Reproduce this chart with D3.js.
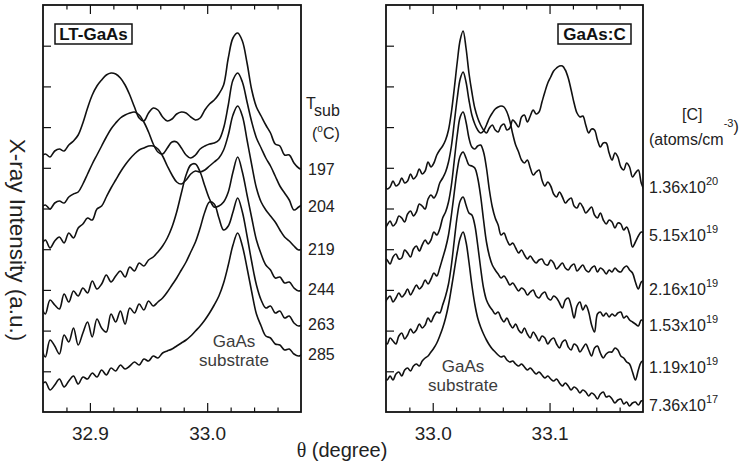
<!DOCTYPE html>
<html>
<head>
<meta charset="utf-8">
<script src="https://cdn.jsdelivr.net/npm/d3@7"></script>
<style>
  html, body { margin: 0; padding: 0; background: #fff; }
  svg { display: block; font-family: "Liberation Sans", Arial, Helvetica, sans-serif; }
</style>
</head>
<body>
<svg id="chart" width="740" height="473"></svg>
<script>
// ---------- LT-GaAs: rocking curves for several substrate temperatures ----------
const thetaLT = [
  32.858, 32.862, 32.866, 32.870, 32.874, 32.878, 32.882, 32.886, 32.890, 32.894,
  32.898, 32.902, 32.906, 32.910, 32.914, 32.918, 32.922, 32.926, 32.930, 32.934,
  32.938, 32.942, 32.946, 32.950, 32.954, 32.958, 32.962, 32.966, 32.970, 32.974,
  32.978, 32.982, 32.986, 32.990, 32.994, 32.998, 33.002, 33.006, 33.010, 33.014,
  33.018, 33.022, 33.026, 33.030, 33.034, 33.038, 33.042, 33.046, 33.050, 33.054,
  33.058, 33.062, 33.066, 33.070, 33.074, 33.078, 33.082
];
const tsubLabels = ["197", "204", "219", "244", "263", "285"];
const lt197 = [255,258,255,261,263,261,267,271,277,289, 304,317,326,332,337,339,338,334,327,317,
  305,294,291,299,304,302,295,291,293,298, 300,299,295,292,294,302,308,312,318,327,
  354,374,379,371,349,322,305,296,287,279, 268,266,257,257,249,244,242];
const lt204 = [204,207,203,209,211,209,215,218,220,228, 238,248,257,266,275,283,289,294,297,299,
  300,297,290,280,268,260,258,264,270,270, 264,257,254,257,263,266,268,269,272,284,
  307,332,339,330,310,290,274,264,254,246, 236,226,219,212,202,205,208];
const lt219 = [166,172,164,171,175,169,179,174,184,188, 194,192,203,206,215,224,232,240,247,253,
  258,262,264,266,266,263,256,246,237,230, 228,232,238,241,240,242,246,250,254,262,
  277,297,306,296,272,247,224,210,202,196, 190,182,175,171,166,162,164];
const lt244 = [108,98,112,107,103,118,110,121,116,124, 119,131,123,128,137,130,136,141,135,145,
  141,149,146,152,155,160,166,174,185,200, 219,237,247,248,240,226,213,205,206,210,
  220,240,255,240,217,194,172,158,147,142, 134,135,129,130,124,121,123];
const lt263 = [69,55,72,66,58,77,70,84,67,79, 90,75,93,84,80,98,90,101,88,104,
  99,108,102,111,106,110,114,120,127,134, 142,150,160,170,184,200,210,208,194,182,
  186,200,214,200,176,150,127,112,104,106, 99,101,94,96,89,86,88];
const lt285 = [26,30,22,27,33,25,31,36,28,35, 33,39,35,42,37,44,41,47,43,46,
  50,47,53,51,56,54,59,61,63,66, 69,72,76,81,86,92,99,107,116,129,
  147,167,179,166,144,120,98,86,76,74, 68,67,62,63,58,56,59];

// ---------- GaAs:C: rocking curves for several carbon concentrations ----------
const thetaC = [
  32.956, 32.9585, 32.961, 32.9635, 32.966, 32.9685, 32.971, 32.9735, 32.976, 32.9785,
  32.981, 32.9835, 32.986, 32.9885, 32.991, 32.9935, 32.996, 32.9985, 33.001, 33.0035,
  33.006, 33.0085, 33.011, 33.0135, 33.016, 33.0185, 33.021, 33.0235, 33.026, 33.0285,
  33.031, 33.0335, 33.036, 33.0385, 33.041, 33.0435, 33.046, 33.0485, 33.051, 33.0535,
  33.056, 33.0585, 33.061, 33.0635, 33.066, 33.0685, 33.071, 33.0735, 33.076, 33.0785,
  33.081, 33.0835, 33.086, 33.0885, 33.091, 33.0935, 33.096, 33.0985, 33.101, 33.1035,
  33.106, 33.1085, 33.111, 33.1135, 33.116, 33.1185, 33.121, 33.1235, 33.126, 33.1285,
  33.131, 33.1335, 33.136, 33.1385, 33.141, 33.1435, 33.146, 33.1485, 33.151, 33.1535,
  33.156, 33.1585, 33.161, 33.1635, 33.166, 33.1685, 33.171, 33.1735, 33.176, 33.1785,
  33.181
];
const dopingMantissa = ["1.36", "5.15", "2.16", "1.53", "1.19", "7.36"];
const dopingExponent = ["20", "19", "19", "19", "19", "17"];
const c136e20 = [222,227,223,225,231,226,228,234,229,231, 238,233,236,243,238,241,250,245,249,257,
  262,266,272,282,300,324,350,372,381,364, 339,320,304,294,287,282,279,284,287,282,
  280,286,288,282,284,292,289,285,295,297, 290,296,302,298,300,310,320,329,335,341,
  344,346,346,342,334,322,309,299,295,296, 287,279,283,282,272,265,269,269,259,252,
  259,255,245,242,249,245,235,239,242,229, 222];
const c515e19 = [186,183,187,191,186,189,196,194,190,198, 201,196,200,208,206,203,213,217,214,219,
  229,234,240,250,266,290,314,333,340,330, 312,297,288,282,279,281,287,294,299,303,
  305,306,305,300,291,278,267,260,252,249, 252,244,237,240,242,232,226,230,226,218,
  215,220,215,209,212,214,206,204,209,205, 199,202,205,197,194,199,192,188,192,190,
  184,189,188,182,185,178,165,170,176,180, 179];
const c216e19 = [150,154,152,148,155,158,153,154,162,159, 155,163,166,161,167,172,168,172,180,177,
  183,194,200,210,227,252,277,295,300,290, 274,265,263,266,267,260,244,222,205,194,
  187,177,179,172,167,169,164,159,162,157, 153,156,152,149,152,153,148,147,152,149,
  143,146,149,144,142,146,148,141,144,147, 142,140,144,146,140,144,142,138,142,140,
  144,141,140,144,146,142,139,130,123,130, 132];
const c153e19 = [112,109,113,116,110,114,119,115,118,123, 117,122,127,123,126,132,128,133,139,136,
  144,154,164,177,197,220,242,256,260,254, 247,246,244,234,216,192,170,156,147,142,
  138,134,136,132,127,129,125,121,124,122, 117,120,122,116,114,118,120,114,112,116,
  114,109,104,112,114,106,94,106,110,102, 107,100,87,80,98,100,96,99,95,98,
  96,99,100,94,96,92,90,88,86,92, 90];
const c119e19 = [67,70,68,74,71,68,76,79,73,77, 83,79,82,88,84,87,94,90,96,100,
  99,107,116,128,147,172,196,211,215,207, 199,197,187,167,144,124,112,106,102,98,
  100,94,90,94,88,84,88,82,79,84, 78,74,80,76,71,76,74,68,72,74,
  68,64,70,72,65,62,68,66,60,64, 68,62,56,64,66,59,54,58,60,60,
  64,62,56,54,50,48,40,32,42,50, 52];
const c736e17 = [30,34,32,36,32,38,40,36,42,44, 41,46,48,46,51,54,56,60,64,69,
  76,84,94,107,124,142,160,174,180,170, 150,127,108,94,85,78,72,67,63,60,
  57,55,56,52,50,51,48,46,48,45, 42,44,41,38,40,37,34,36,33,31,
  33,29,26,29,26,22,25,23,19,22, 20,16,19,17,13,18,20,15,16,13,
  9,12,13,8,10,6,9,10,7,11, 12];

// ---------- tick values ----------
const ltMajorTicks = [32.9, 33.0];
const ltMinorTicks = [32.88, 32.92, 32.94, 32.96, 32.98, 33.02, 33.04, 33.06];
const cMajorTicks = [33.0, 33.1];
const cMinorTicks = [32.98, 33.02, 33.04, 33.06, 33.08, 33.12, 33.14, 33.16];
const intensityTicks = [40.7, 81.4, 122.1, 162.8, 203.5, 244.2, 284.9, 325.6, 366.3];

// ---------- drawing ----------
const svg = d3.select("#chart");
const FONT = '"Liberation Sans", Arial, Helvetica, sans-serif';
const plotTop = 5, plotBottom = 412;
const y = d3.scaleLinear().domain([0, 407]).range([plotBottom, plotTop]);

function styleAxis(g, fontSize) {
  g.select(".domain").remove();
  g.selectAll(".tick line").attr("stroke", "#111").attr("stroke-width", 1.2);
  g.selectAll(".tick text").attr("font-family", FONT).attr("font-size", fontSize).attr("fill", "#222");
  g.attr("font-family", null).attr("font-size", null);
}

function drawPanel(p) {
  const x = d3.scaleLinear().domain(p.domain).range([p.left, p.right]);
  const g = svg.append("g");

  svg.append("clipPath").attr("id", p.id + "-clip")
    .append("rect")
    .attr("x", p.left).attr("y", plotTop)
    .attr("width", p.right - p.left).attr("height", plotBottom - plotTop);

  const line = d3.line()
    .x((d, i) => x(p.theta[i]))
    .y(d => y(d))
    .curve(d3.curveCatmullRom.alpha(0.5));

  g.append("g").attr("clip-path", `url(#${p.id}-clip)`)
    .selectAll("path").data(p.series).join("path")
    .attr("d", line)
    .attr("fill", "none")
    .attr("stroke", "#111")
    .attr("stroke-width", 1.6)
    .attr("stroke-linejoin", "round");

  // bottom axis: labelled majors + short minors
  g.append("g").attr("transform", `translate(0,${plotBottom})`)
    .call(d3.axisBottom(x).tickValues(p.major).tickSizeInner(-9).tickSizeOuter(0)
      .tickPadding(15).tickFormat(d3.format(".1f")))
    .call(a => styleAxis(a, 19));
  g.append("g").attr("transform", `translate(0,${plotBottom})`)
    .call(d3.axisBottom(x).tickValues(p.minor).tickSizeInner(-4.5).tickSizeOuter(0).tickFormat(() => ""))
    .call(a => styleAxis(a, 19));
  // top axis mirrors the ticks
  g.append("g").attr("transform", `translate(0,${plotTop})`)
    .call(d3.axisTop(x).tickValues(p.major).tickSizeInner(-9).tickSizeOuter(0).tickFormat(() => ""))
    .call(a => styleAxis(a, 19));
  g.append("g").attr("transform", `translate(0,${plotTop})`)
    .call(d3.axisTop(x).tickValues(p.minor).tickSizeInner(-4.5).tickSizeOuter(0).tickFormat(() => ""))
    .call(a => styleAxis(a, 19));
  // left intensity ticks, no labels
  g.append("g").attr("transform", `translate(${p.left},0)`)
    .call(d3.axisLeft(y).tickValues(intensityTicks).tickSizeInner(-8).tickSizeOuter(0).tickFormat(() => ""))
    .call(a => styleAxis(a, 19));

  // frame
  g.append("rect")
    .attr("x", p.left).attr("y", plotTop)
    .attr("width", p.right - p.left).attr("height", plotBottom - plotTop)
    .attr("fill", "none").attr("stroke", "#111").attr("stroke-width", 1.8);

  // boxed sample name
  g.append("rect")
    .attr("x", p.boxX).attr("y", 24).attr("width", p.boxW).attr("height", 20)
    .attr("fill", "#fff").attr("stroke", "#111").attr("stroke-width", 1.5);
  g.append("text")
    .attr("x", p.boxX + p.boxW / 2).attr("y", 39.5)
    .attr("text-anchor", "middle")
    .attr("font-family", FONT).attr("font-size", 17).attr("font-weight", "bold").attr("fill", "#111")
    .text(p.name);

  // substrate peak annotation
  const sub = g.append("text")
    .attr("text-anchor", "middle").attr("font-family", FONT).attr("font-size", 17).attr("fill", "#3c3c3c");
  sub.append("tspan").attr("x", p.subX).attr("y", p.subY).text("GaAs");
  sub.append("tspan").attr("x", p.subX).attr("y", p.subY + 19).text("substrate");
}

drawPanel({
  id: "lt", left: 43, right: 301, domain: [32.86, 33.08],
  theta: thetaLT, series: [lt197, lt204, lt219, lt244, lt263, lt285],
  major: ltMajorTicks, minor: ltMinorTicks,
  name: "LT-GaAs", boxX: 55, boxW: 77, subX: 234, subY: 347
});
drawPanel({
  id: "gc", left: 386, right: 643, domain: [32.96, 33.18],
  theta: thetaC, series: [c136e20, c515e19, c216e19, c153e19, c119e19, c736e17],
  major: cMajorTicks, minor: cMinorTicks,
  name: "GaAs:C", boxX: 558, boxW: 73, subX: 463, subY: 372
});

// ---------- series labels, left panel ----------
const lab = svg.append("g").attr("font-family", FONT).attr("fill", "#222").attr("font-size", 16);
const tsub = lab.append("text").attr("x", 306).attr("y", 109);
tsub.append("tspan").text("T");
tsub.append("tspan").attr("dy", 7).text("sub");
const degC = lab.append("text").attr("x", 312).attr("y", 139);
degC.append("tspan").text("(");
degC.append("tspan").attr("font-size", 10).attr("dy", -7).text("o");
degC.append("tspan").attr("dy", 7).text("C)");
const tsubY = [175, 212, 255, 295, 330, 360];
tsubLabels.forEach((t, i) => {
  lab.append("text").attr("x", 308).attr("y", tsubY[i]).text(t);
});

// ---------- series labels, right panel ----------
lab.append("text").attr("x", 682).attr("y", 120).text("[C]");
const units = lab.append("text").attr("x", 649).attr("y", 145);
units.append("tspan").text("(atoms/cm");
units.append("tspan").attr("font-size", 11).attr("dy", -18).text("-3");
units.append("tspan").attr("dy", 5).text(")");
const dopY = [193, 241, 295, 331, 373, 411];
dopingMantissa.forEach((m, i) => {
  const t = lab.append("text").attr("x", 649).attr("y", dopY[i]);
  t.append("tspan").text(m + "x10");
  t.append("tspan").attr("font-size", 11).attr("dy", -8).text(dopingExponent[i]);
});

// ---------- axis titles ----------
const xt = svg.append("text")
  .attr("x", 342).attr("y", 457).attr("text-anchor", "middle")
  .attr("font-family", FONT).attr("font-size", 20).attr("fill", "#222");
xt.append("tspan").attr("font-family", '"Liberation Serif", "DejaVu Serif", serif').text("θ");
xt.append("tspan").text(" (degree)");

svg.append("text")
  .attr("transform", "translate(17,240) rotate(90)")
  .attr("text-anchor", "middle").attr("dominant-baseline", "central")
  .attr("font-family", FONT).attr("font-size", 22.5).attr("fill", "#222")
  .text("X-ray Intensity (a.u.)");
</script>
</body>
</html>
